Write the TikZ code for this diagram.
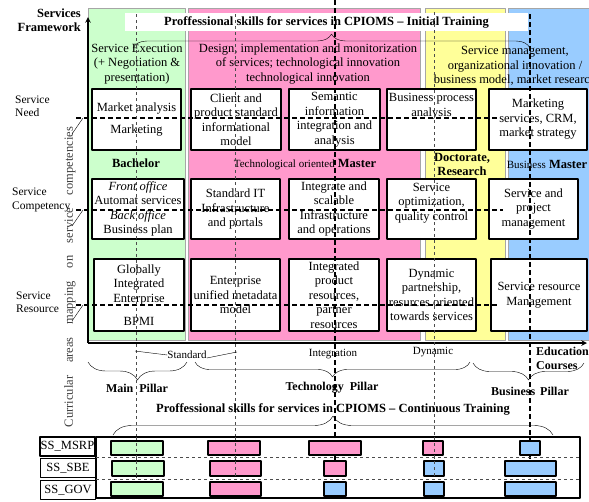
\documentclass[tikz,border=0pt]{standalone}
\usepackage{fontspec}
\setmainfont{Liberation Serif}
\usetikzlibrary{decorations.pathreplacing}
\definecolor{colgreen}{RGB}{204,255,204}
\definecolor{colpink}{RGB}{255,153,204}
\definecolor{colyellow}{RGB}{255,255,153}
\definecolor{colblue}{RGB}{153,204,255}
\begin{document}
\begin{tikzpicture}[x=1pt,y=-1pt,line join=round,>=stealth,font=\fontsize{12.5}{14.5}\selectfont]
\tikzset{cell/.style={draw,line width=1.2pt,fill=white,align=center,inner sep=0pt},
  head/.style={align=center,inner sep=0pt},
  bold/.style={font=\bfseries\fontsize{12.5}{14}\selectfont,inner sep=0pt},
  small/.style={font=\fontsize{11}{13}\selectfont,inner sep=0pt},
  side label/.style={font=\fontsize{11.5}{13.5}\selectfont,align=left,anchor=west,inner sep=0pt},
  pillar/.style={font=\bfseries\fontsize{12}{14}\selectfont,inner sep=0pt},
  rowlab/.style={draw,line width=1.5pt,minimum width=55pt,minimum height=19pt,inner sep=0pt},
  bar/.style={draw,line width=1.2pt},
  thin dash/.style={dashed,gray!60!black,thin},
  thick dash/.style={dash pattern=on 5pt off 3pt,line width=1.4pt},
  curly/.style={decorate,decoration={brace,amplitude=#1},thin}}
\useasboundingbox (0,0) rectangle (589,501);
\def\rowA{119.5}
\def\rowB{209}
\def\rowC{295}
\filldraw[fill=colgreen,draw=gray!70] (88,8) rectangle (185,340);
\filldraw[fill=colpink,draw=gray!70] (188,8) rectangle (420,340);
\filldraw[fill=colyellow,draw=gray!70] (425,8) rectangle (505,340);
\filldraw[fill=colblue,draw=gray!70] (508,8) rectangle (595,340);
\node[bold,fill=white,minimum width=403pt,minimum height=18pt] (title) at (326.5,22) {Proffessional skills for services in CPIOMS -- Initial Training};
\draw[curly=14pt] (133,48) -- (530,48);
\node[head] (hexec) at (137,64) {Service Execution\\(+ Negotiation \&\\presentation)};
\node[head] (hdesign) at (308,64) {Design, implementation and monitorization\\of services; technological innovation\\technological innovation};
\node[head] (hmgmt) at (515,66) {Service management,\\organizational innovation /\\business model, market research};
\node[cell,minimum width=89pt,minimum height=61pt] (needG) at (136.5,\rowA) {Market analysis\\[7.5pt]Marketing};
\node[cell,minimum width=90pt,minimum height=61pt] (needP) at (236,\rowA) {Client and\\product standard\\informational\\model};
\node[cell,minimum width=91pt,minimum height=61pt] (needQ) at (334.5,\rowA) {Semantic\\information\\integration and\\analysis};
\node[cell,minimum width=89pt,minimum height=61pt] (needY) at (431.5,\rowA) {Business process\\analysis\\~\\~};
\node[cell,minimum width=98pt,minimum height=61pt] (needB) at (538,\rowA) {Marketing\\services, CRM,\\market strategy};
\node[bold] (bach) at (136,163) {Bachelor};
\node (techm) at (305,165) {{\fontsize{11}{13}\selectfont Technological oriented} \textbf{Master}};
\node[bold,align=center] (doct) at (462,164) {Doctorate,\\Research};
\node (busm) at (547,164) {{\fontsize{11}{13}\selectfont Business} \textbf{Master}};
\node[cell,minimum width=92pt,minimum height=60pt] (compG) at (138,\rowB) {\textit{Front office}\\Automat services\\\textit{Back office}\\Business plan};
\node[cell,minimum width=89pt,minimum height=60pt] (compP) at (235.5,\rowB) {Standard IT\\Infrastructure\\and portals};
\node[cell,minimum width=90pt,minimum height=60pt] (compQ) at (334,\rowB) {Integrate and\\scalable\\Infrastructure\\and operations};
\node[cell,minimum width=89pt,minimum height=60pt] (compY) at (431.5,\rowB) {Service\\optimization,\\quality control\\~};
\node[cell,minimum width=89pt,minimum height=60pt] (compB) at (533.5,\rowB) {Service and\\project\\management};
\node[cell,minimum width=90pt,minimum height=72pt] (resG) at (139,\rowC) {Globally\\Integrated\\Enterprise\\[9pt]BPMI};
\node[cell,minimum width=89pt,minimum height=72pt] (resP) at (235.5,\rowC) {Enterprise\\unified metadata\\model};
\node[cell,minimum width=90pt,minimum height=72pt] (resQ) at (334,\rowC) {Integrated\\product\\resources,\\partner\\resources};
\node[cell,minimum width=89pt,minimum height=72pt] (resY) at (431.5,\rowC) {Dynamic\\partnership,\\resurces oriented\\towards services};
\node[cell,minimum width=96pt,minimum height=72pt] (resB) at (539,\rowC) {Service resource\\Management};
\coordinate (origin) at (88,343);
\coordinate (ytip) at (88,17);
\coordinate (xtip) at (587,343);
\draw[->,line width=1.5pt] (origin) -- (ytip);
\draw[->,line width=1.5pt] (origin) -- (xtip);
\node[bold,align=right,anchor=east] (frame) at (81,20) {Services\\Framework};
\node[side label] (lneed) at (15,106) {Service\\Need};
\node[side label] (lcomp) at (12,200) {Service\\Competency};
\node[side label] (lres) at (16,302) {Service\\Resource};
\node[rotate=90,inner sep=0pt,text=black!75] (curric) at (70,277) {\hbox to 300pt{Curricular\hfill areas\hfill mapping\hfill on\hfill service\hfill competencies}};
\foreach \y/\xe in {118/500,210/503,305/497}
  \draw[thick dash] (76,\y) -- (\xe,\y);
\foreach \y in {118,210,305}
  \draw[thin] (83,\y) -- (72,\y+16);
\foreach \x/\ya/\yb in {136/14/478,235/14/477,434/12/470}
  \draw[thin dash] (\x,\ya) -- (\x,\yb);
\foreach \x/\ya/\yb in {335/0/473,530/14/468}
  \draw[thick dash] (\x,\ya) -- (\x,\yb);
\node[small] (std) at (187,355) {Standard};
\draw[thin] (std.west) -- (135,351);
\draw[thin] ([yshift=-3pt]std.east) -- (237,352);
\node[small] (integ) at (333,354) {Integration};
\node[small] (dyn) at (433,352) {Dynamic};
\node[pillar,align=left,anchor=north west] (educ) at (536,347) {Education\\Courses};
\draw[curly=18pt] (187,362) -- (88,362);
\draw[curly=15pt] (470,362) -- (195,362);
\draw[curly=17pt] (584,363) -- (473,363);
\node[pillar] (mainp) at (137,388) {Main\hspace{6pt}Pillar};
\node[pillar] (techp) at (332,388) {Technology\hspace{6pt}Pillar};
\node[pillar] (busp) at (530,391) {Business\hspace{5pt}Pillar};
\node[bold] (ctitle) at (333,409) {Proffessional skills for services in CPIOMS -- Continuous Training};
\draw[curly=19pt] (113,435) -- (553,435);
\draw[line width=1.2pt] (96,437) rectangle (580,498);
\draw[thin dash] (96,457) -- (580,457);
\draw[thin dash] (96,479) -- (580,479);
\node[rowlab] (msrp) at (67.5,446.5) {SS\_MSRP};
\node[rowlab] (sbe) at (68,468) {SS\_SBE};
\node[rowlab] (gov) at (68,490) {SS\_GOV};
\foreach \xa/\xb/\c in {111/163/colgreen,208/260/colpink,309/361/colpink,423/443/colpink,520/540/colblue}
  \draw[bar,fill=\c] (\xa,441) rectangle (\xb,455);
\foreach \xa/\xb/\c in {112/164/colgreen,210/261/colpink,324/346/colpink,424/444/colblue,505/556/colblue}
  \draw[bar,fill=\c] (\xa,461) rectangle (\xb,476);
\foreach \xa/\xb/\c in {111/163/colgreen,210/261/colpink,324/346/colblue,424/444/colblue,505/556/colblue}
  \draw[bar,fill=\c] (\xa,482) rectangle (\xb,496);
\foreach \x in {136,235,434}
  \draw[thin dash] (\x,437) -- (\x,478);
\end{tikzpicture}
\end{document}
